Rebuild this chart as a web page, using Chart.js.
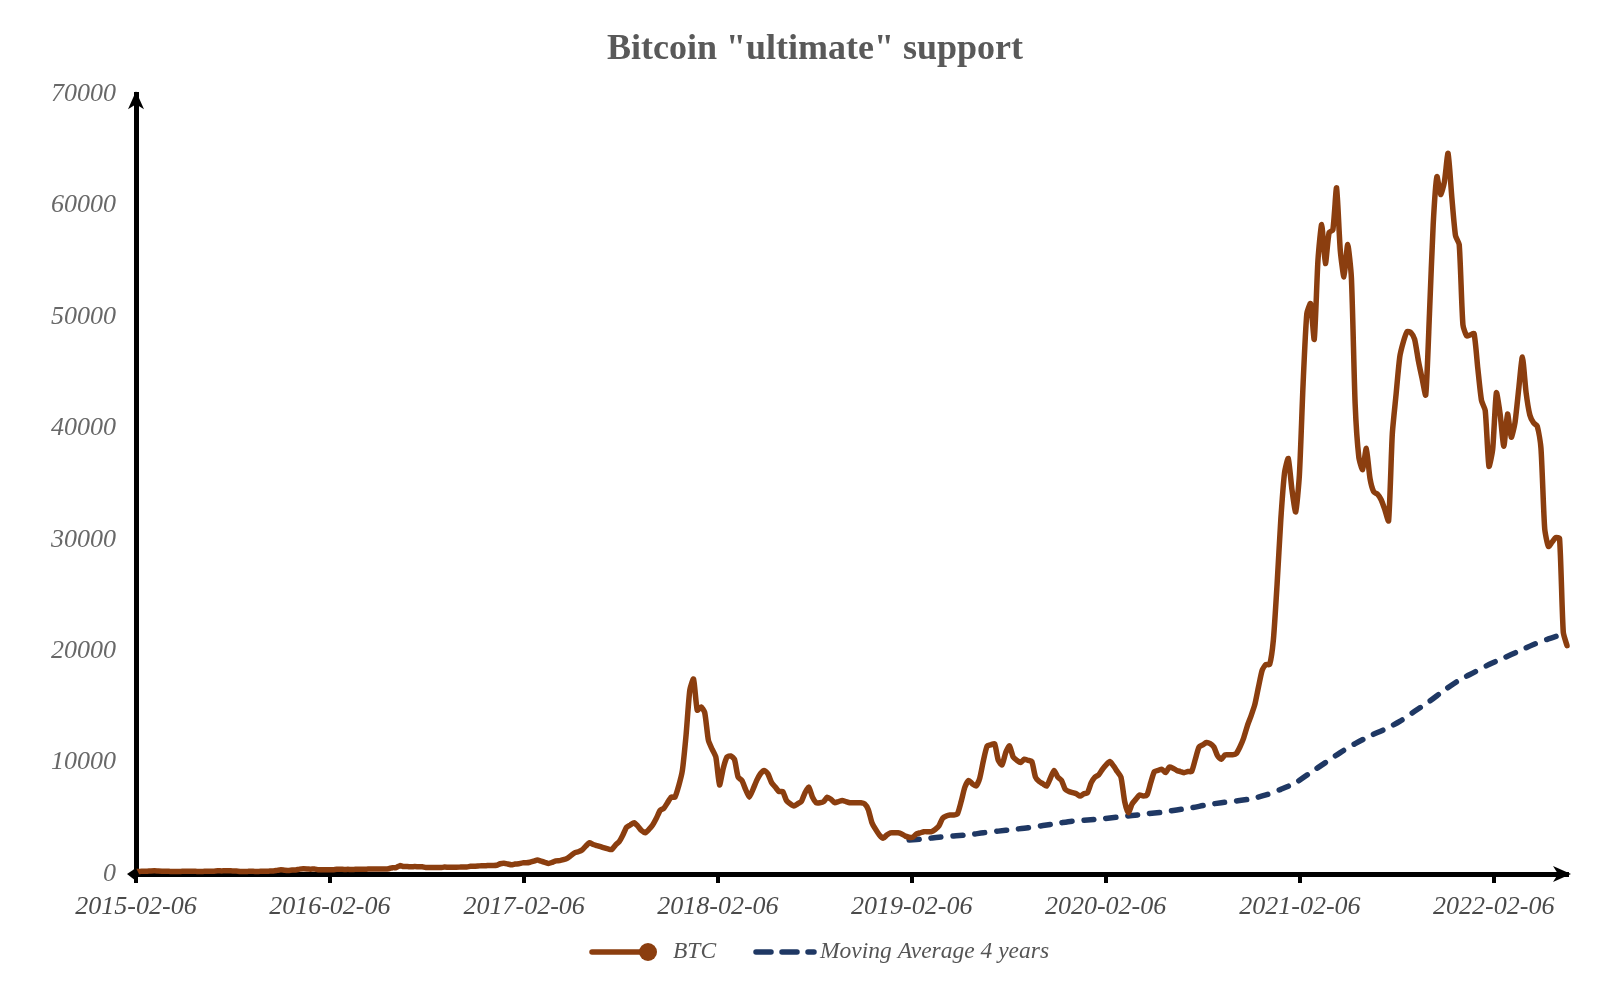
<!DOCTYPE html>
<html>
<head>
<meta charset="utf-8">
<title>Bitcoin "ultimate" support</title>
<script src="https://cdn.jsdelivr.net/npm/chart.js"></script>
<style>
  html, body { margin: 0; padding: 0; background: #fff; }
  #wrap { width: 1620px; height: 1000px; }
</style>
</head>
<body>
<div id="wrap"><canvas id="myChart" width="1620" height="1000"></canvas></div>
<script>
// weekly series, first value is the week of startDate
const startDate = '2015-02-06';
const xTickLabels = ['2015-02-06', '2016-02-06', '2017-02-06', '2018-02-06',
  '2019-02-06', '2020-02-06', '2021-02-06', '2022-02-06'];
const yTickValues = [0, 10000, 20000, 30000, 40000, 50000, 60000, 70000];
const seriesNames = ['BTC', 'Moving Average 4 years'];

const btcWeekly = [
  // 2015
  217, 235, 244, 254, 275, 285, 262, 248, 255, 236, 222, 231, 232, 243, 237, 240, 237,
  225, 230, 245, 243, 256, 285, 278, 289, 285, 279, 266, 235, 231, 235, 240, 232, 235,
  238, 243, 262, 278, 327, 375, 336, 322, 357, 363, 435, 463, 455,
  // 2016
  434, 452, 387, 382, 379, 386, 384, 421, 432, 410, 419, 408, 416, 417, 420, 429, 450,
  455, 460, 455, 442, 473, 569, 578, 753, 664, 676, 640, 664, 651, 655, 575, 586, 576,
  577, 575, 623, 607, 603, 609, 617, 638, 633, 689, 703, 716, 751, 736, 769, 772, 784,
  922, 963,
  // 2017
  900, 820, 890, 920, 1000, 1000, 1050, 1150, 1250, 1150, 1050, 950, 1050, 1180, 1200,
  1280, 1400, 1650, 1900, 2000, 2150, 2500, 2800, 2650, 2550, 2450, 2350, 2250, 2200,
  2600, 2900, 3500, 4200, 4400, 4600, 4300, 3900, 3700, 4000, 4400, 5000, 5700, 5900,
  6400, 6900, 6900, 7900, 9300, 12500, 16500, 17500, 14700,
  // 2018
  15000, 14500, 12000, 11200, 10500, 8000, 9500, 10500, 10600, 10300,
  8700, 8400, 7600, 6900, 7600, 8400, 9000, 9300, 9000, 8200,
  7800, 7400, 7400, 6600, 6300, 6100, 6300, 6500, 7300, 7800,
  6900, 6400, 6400, 6500, 6900, 6700, 6400, 6500, 6600, 6500,
  6400, 6400, 6400, 6400, 6300, 5800, 4600, 4000, 3500, 3200,
  3500, 3700,
  // 2019
  3700, 3700, 3600, 3400, 3300, 3300, 3600, 3700, 3800, 3800,
  3800, 4000, 4300, 5000, 5200, 5300, 5300, 5400, 6500, 7800,
  8400, 8100, 7900, 8600, 10200, 11500, 11600, 11700, 10200, 9800,
  10900, 11500, 10500, 10200, 10000, 10300, 10200, 10100, 8700, 8300,
  8100, 7900, 8600, 9300, 8700, 8400, 7600, 7400, 7300, 7200,
  7000, 7200,
  // 2020
  7300, 8200, 8700, 8900, 9400, 9800, 10100, 9700, 9200, 8700,
  6500, 5500, 6300, 6700, 7100, 7000, 7100, 8200, 9200, 9300,
  9400, 9100, 9600, 9500, 9300, 9200, 9100, 9200, 9200, 10300,
  11400, 11600, 11800, 11700, 11400, 10600, 10300, 10700, 10700, 10700,
  10800, 11400, 12200, 13300, 14200, 15200, 16800, 18300, 18800, 18800,
  21000, 26000,
  // 2021
  31800, 36000, 37300, 34500, 32500, 35800, 44000, 50300, 51200, 48000,
  55100, 58300, 54800, 57600, 57800, 61600, 56000, 53600, 56500, 53500,
  42200, 37400, 36300, 38200, 35500, 34300, 34100, 33600, 32700, 31700,
  39500, 43000, 46400, 47800, 48700, 48600, 48000, 46100, 44500, 43000,
  50300, 58300, 62600, 61000, 62100, 64700, 60800, 57300, 56500, 49300,
  48300, 48400, 48500,
  // 2022
  45400, 42500, 41600, 36600, 38100, 43200, 41300, 38400, 41300, 39200,
  40500, 43500, 46400, 43200, 41200, 40500, 40200, 38200, 31000, 29400,
  29800, 30200, 30100, 21700, 20500
];

const maWeeks = [208, 212, 216, 220, 224, 228, 232, 236, 240, 244, 248, 252, 256, 260,
  264, 268, 272, 276, 280, 284, 288, 292, 296, 300, 304, 308, 312, 316, 320, 324, 328,
  332, 336, 340, 344, 348, 352, 356, 360, 364, 368, 372, 376, 380, 385];
const maValues = [3050, 3150, 3300, 3420, 3520, 3700, 3850, 4000, 4150, 4350, 4550,
  4750, 4850, 4950, 5100, 5250, 5400, 5550, 5750, 5950, 6200, 6400, 6550, 6750, 7100,
  7600, 8200, 9100, 10000, 10900, 11700, 12400, 13000, 13700, 14600, 15500, 16500,
  17400, 18100, 18800, 19400, 20000, 20600, 21100, 21650];

const serif = '"Liberation Serif", "Times New Roman", serif';
const brown = '#8B3E0F';
const navy = '#1F3864';

function weeksFromStart(d) {
  return (Date.parse(d) - Date.parse(startDate)) / (7 * 24 * 3600 * 1000);
}

// arrow heads on both axes + small mark at the origin
const axisArrows = {
  id: 'axisArrows',
  afterDraw(chart) {
    const ctx = chart.ctx;
    const a = chart.chartArea;
    const x0 = a.left;
    const y0 = a.bottom;
    ctx.save();
    ctx.fillStyle = '#000';

    ctx.beginPath();
    ctx.moveTo(x0, a.top - 3);
    ctx.lineTo(x0 - 8, a.top + 15);
    ctx.lineTo(x0, a.top + 10);
    ctx.lineTo(x0 + 8, a.top + 15);
    ctx.closePath();
    ctx.fill();

    ctx.beginPath();
    ctx.moveTo(a.right + 4, y0);
    ctx.lineTo(a.right - 14, y0 - 8);
    ctx.lineTo(a.right - 9, y0);
    ctx.lineTo(a.right - 14, y0 + 8);
    ctx.closePath();
    ctx.fill();

    ctx.beginPath();
    ctx.moveTo(x0 - 9, y0);
    ctx.lineTo(x0, y0 - 6);
    ctx.lineTo(x0 + 3, y0);
    ctx.lineTo(x0, y0 + 7);
    ctx.closePath();
    ctx.fill();
    ctx.restore();
  }
};

// legend under the x axis, drawn by hand to get the line + dot symbol
const bottomLegend = {
  id: 'bottomLegend',
  afterDraw(chart) {
    const ctx = chart.ctx;
    const ds = chart.data.datasets;
    const y = 952;
    ctx.save();
    ctx.font = 'italic 23.5px ' + serif;
    ctx.textBaseline = 'middle';

    ctx.strokeStyle = ds[0].borderColor;
    ctx.fillStyle = ds[0].borderColor;
    ctx.lineWidth = 5.5;
    ctx.lineCap = 'round';
    ctx.beginPath();
    ctx.moveTo(592, y);
    ctx.lineTo(645, y);
    ctx.stroke();
    ctx.beginPath();
    ctx.arc(648, y, 9, 0, Math.PI * 2);
    ctx.fill();
    ctx.fillStyle = '#555';
    ctx.fillText(ds[0].label, 673, y);

    ctx.strokeStyle = ds[1].borderColor;
    ctx.setLineDash([15, 11]);
    ctx.beginPath();
    ctx.moveTo(756, y);
    ctx.lineTo(814, y);
    ctx.stroke();
    ctx.setLineDash([]);
    ctx.fillText(ds[1].label, 820, y);
    ctx.restore();
  }
};

const ctx = document.getElementById('myChart').getContext('2d');

const myChart = new Chart(ctx, {
  type: 'line',
  data: {
    datasets: [{
      label: seriesNames[0],
      data: btcWeekly.map((v, i) => ({ x: i, y: v })),
      borderColor: brown,
      backgroundColor: brown,
      borderWidth: 5.5,
      pointRadius: 0,
      tension: 0.2,
      borderJoinStyle: 'round',
      borderCapStyle: 'round',
      clip: false
    }, {
      label: seriesNames[1],
      data: maWeeks.map((w, i) => ({ x: w, y: maValues[i] })),
      borderColor: navy,
      backgroundColor: navy,
      borderWidth: 5.5,
      borderDash: [10, 12],
      borderCapStyle: 'round',
      pointRadius: 0,
      tension: 0.3,
      clip: false
    }]
  },
  options: {
    responsive: false,
    animation: false,
    devicePixelRatio: 1,
    layout: { padding: { left: 63, right: 53, top: 0, bottom: 70 } },
    plugins: {
      legend: { display: false },
      tooltip: { enabled: false },
      title: {
        display: true,
        text: 'Bitcoin "ultimate" support',
        color: '#595959',
        font: { family: serif, size: 36, weight: 'bold' },
        padding: { top: 28, bottom: 23 }
      }
    },
    scales: {
      x: {
        type: 'linear',
        min: 0,
        max: btcWeekly.length - 1,
        afterFit: s => { s.height = 56; },
        afterBuildTicks: s => {
          s.ticks = xTickLabels.map(d => ({ value: weeksFromStart(d) }));
        },
        ticks: {
          autoSkip: false,
          maxRotation: 0,
          padding: 9,
          color: '#4a4a4a',
          font: { family: serif, size: 26, style: 'italic' },
          callback: (v, i) => xTickLabels[i]
        },
        grid: { drawOnChartArea: false, tickLength: 9, color: '#000', lineWidth: 4 },
        border: { color: '#000', width: 5 }
      },
      y: {
        min: 0,
        max: 70000,
        afterFit: s => { s.width = 73; },
        // labels stick out left of the narrow axis box, so don't clip them
        afterUpdate: s => { s._computeLabelArea = () => undefined; },
        afterBuildTicks: s => {
          s.ticks = yTickValues.map(v => ({ value: v }));
        },
        ticks: {
          padding: 20,
          color: '#686868',
          font: { family: serif, size: 26, style: 'italic' },
          callback: v => String(v)
        },
        grid: { display: false, drawTicks: false },
        border: { color: '#000', width: 5 }
      }
    }
  },
  plugins: [axisArrows, bottomLegend]
});
</script>
</body>
</html>
